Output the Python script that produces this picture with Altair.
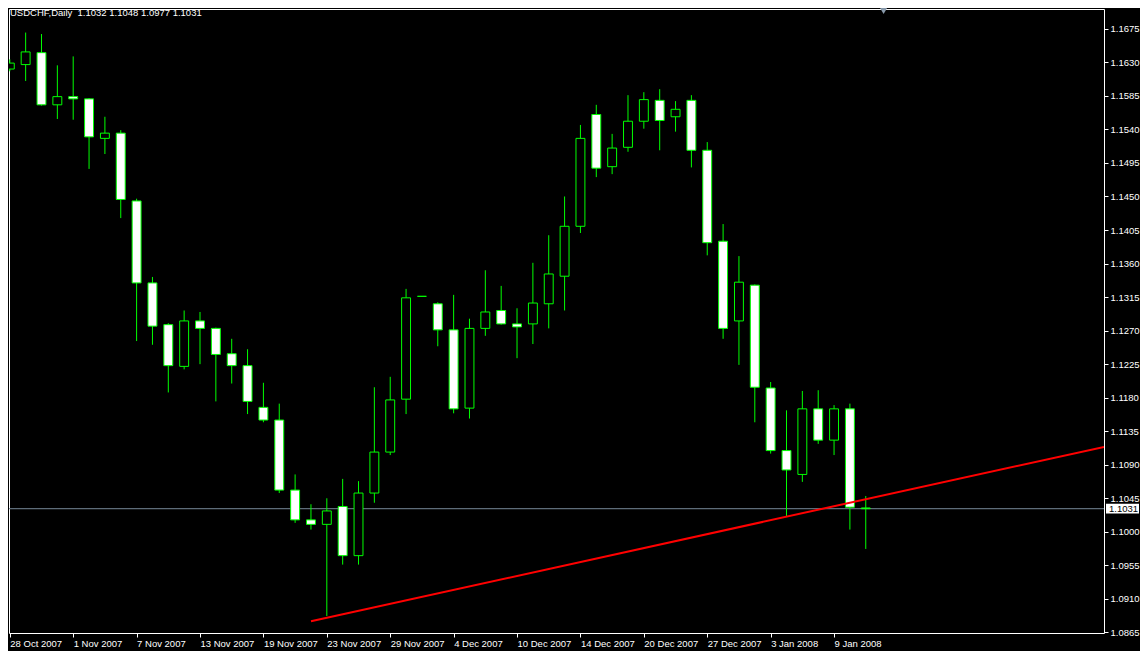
import json
import altair as alt
import pandas as pd

# ---------------- data ----------------
symbol_title = "USDCHF,Daily\u00a0\u00a01.1032 1.1048 1.0977 1.1031"

bar_index = list(range(55))
opens = [1.1621, 1.1627, 1.1643, 1.1573, 1.1584, 1.1581, 1.1528, 1.1535, 1.1444, 1.1334,
         1.1278, 1.1222, 1.1283, 1.1273, 1.1239, 1.1223, 1.1167, 1.1150, 1.1056, 1.1016,
         1.1010, 1.1034, 1.0968, 1.1052, 1.1107, 1.1178, 1.1316, 1.1306, 1.1271, 1.1166,
         1.1273, 1.1297, 1.1279, 1.1279, 1.1306, 1.1343, 1.1410, 1.1560, 1.1490, 1.1516,
         1.1551, 1.1579, 1.1557, 1.1579, 1.1512, 1.1390, 1.1283, 1.1331, 1.1193, 1.1109,
         1.1077, 1.1165, 1.1123, 1.1165, 1.1032]
highs = [1.1634, 1.1670, 1.1668, 1.1626, 1.1638, 1.1582, 1.1557, 1.1539, 1.1447, 1.1342,
         1.1280, 1.1297, 1.1295, 1.1274, 1.1259, 1.1245, 1.1200, 1.1172, 1.1077, 1.1037,
         1.1045, 1.1071, 1.1068, 1.1194, 1.1208, 1.1326, 1.1316, 1.1308, 1.1318, 1.1286,
         1.1351, 1.1330, 1.1300, 1.1361, 1.1398, 1.1450, 1.1546, 1.1573, 1.1534, 1.1586,
         1.1590, 1.1594, 1.1578, 1.1586, 1.1523, 1.1413, 1.1370, 1.1332, 1.1201, 1.1163,
         1.1189, 1.1190, 1.1170, 1.1172, 1.1048]
lows = [1.1618, 1.1605, 1.1572, 1.1554, 1.1553, 1.1487, 1.1507, 1.1421, 1.1256, 1.1251,
        1.1187, 1.1218, 1.1225, 1.1175, 1.1199, 1.1158, 1.1147, 1.1052, 1.1012, 1.1003,
        1.0887, 1.0956, 1.0956, 1.1039, 1.1103, 1.1158, 1.1316, 1.1249, 1.1159, 1.1152,
        1.1263, 1.1278, 1.1233, 1.1252, 1.1273, 1.1297, 1.1401, 1.1476, 1.1480, 1.1510,
        1.1541, 1.1512, 1.1537, 1.1489, 1.1371, 1.1259, 1.1224, 1.1147, 1.1105, 1.1021,
        1.1067, 1.1118, 1.1103, 1.1003, 1.0977]
closes = [1.1629, 1.1644, 1.1573, 1.1584, 1.1581, 1.1530, 1.1535, 1.1446, 1.1334, 1.1276,
          1.1223, 1.1283, 1.1273, 1.1238, 1.1223, 1.1175, 1.1150, 1.1056, 1.1016, 1.1010,
          1.1028, 1.0968, 1.1052, 1.1107, 1.1177, 1.1314, 1.1316, 1.1271, 1.1165, 1.1273,
          1.1295, 1.1279, 1.1275, 1.1307, 1.1346, 1.1410, 1.1528, 1.1488, 1.1515, 1.1551,
          1.1580, 1.1552, 1.1567, 1.1512, 1.1388, 1.1273, 1.1335, 1.1194, 1.1109, 1.1083,
          1.1165, 1.1123, 1.1165, 1.1033, 1.1031]

tick_index = [0, 4, 8, 12, 16, 20, 24, 28, 32, 36, 40, 44, 48, 52]
tick_labels = ["28 Oct 2007", "1 Nov 2007", "7 Nov 2007", "13 Nov 2007", "19 Nov 2007",
               "23 Nov 2007", "29 Nov 2007", "4 Dec 2007", "10 Dec 2007", "14 Dec 2007",
               "20 Dec 2007", "27 Dec 2007", "3 Jan 2008", "9 Jan 2008"]
price_ticks = [1.0865, 1.0910, 1.0955, 1.1000, 1.1045, 1.1090, 1.1135, 1.1180, 1.1225,
               1.1270, 1.1315, 1.1360, 1.1405, 1.1450, 1.1495, 1.1540, 1.1585, 1.1630, 1.1675]

trend_index = [19, 69.03]
trend_price = [1.0880, 1.1114]

bid_price = [1.1031]
shift_marker_index = [55.125]

# ---------------- layout ----------------
W, H = 1095, 624
x_domain = [-0.05, 69.03]
y_domain = [1.08642, 1.17016]
FONT = "Liberation Sans"
FS = 9.5
GREEN = "#00ff00"

xs = alt.Scale(domain=x_domain, nice=False, zero=False)
ys = alt.Scale(domain=y_domain, nice=False, zero=False)

label_expr = f"{json.dumps(tick_labels)}[indexof({json.dumps(tick_index)}, datum.value)]"
x_axis = alt.Axis(values=tick_index, labelExpr=label_expr, orient="bottom", title=None,
                  tickSize=4, labelAlign="left", labelBaseline="top", labelPadding=1,
                  labelOffset=0, labelOverlap=False, labelFlush=False, grid=False,
                  domain=False)
y_axis = alt.Axis(values=price_ticks, format=".4f", orient="right", title=None,
                  tickSize=4, labelPadding=2, labelOverlap=False, labelFlush=False,
                  grid=False, domain=False)

candles = pd.DataFrame({"i": bar_index, "o": opens, "h": highs, "l": lows, "c": closes})
candles["kind"] = ["bull" if c > o else "bear" for o, c in zip(opens, closes)]
half = 4.5 / 16
candles["x1"] = candles["i"] - half
candles["x2"] = candles["i"] + half

bid_df = pd.DataFrame({"p": bid_price})
trend_df = pd.DataFrame({"i": trend_index, "p": trend_price})

bid_line = alt.Chart(bid_df).mark_rule(color="#778899", strokeWidth=1).encode(
    y=alt.Y("p:Q", scale=ys, axis=y_axis)
)

wicks = alt.Chart(candles).mark_rule(color=GREEN, strokeWidth=1, clip=True).encode(
    x=alt.X("i:Q", scale=xs, axis=x_axis),
    y=alt.Y("h:Q", scale=ys, axis=y_axis),
    y2="l:Q",
)

bodies = alt.Chart(candles).mark_rect(stroke=GREEN, strokeWidth=1, clip=True).encode(
    x=alt.X("x1:Q", scale=xs, axis=x_axis),
    x2="x2:Q",
    y=alt.Y("o:Q", scale=ys, axis=y_axis),
    y2="c:Q",
    fill=alt.Fill("kind:N", scale=alt.Scale(domain=["bull", "bear"],
                                            range=["#000000", "#ffffff"]), legend=None),
)

trend = alt.Chart(trend_df).mark_line(color="#ff0000", strokeWidth=2, clip=True).encode(
    x=alt.X("i:Q", scale=xs, axis=x_axis),
    y=alt.Y("p:Q", scale=ys, axis=y_axis),
)

title_txt = alt.Chart(pd.DataFrame({"t": [symbol_title]})).mark_text(
    align="left", baseline="alphabetic", color="white", font=FONT, fontSize=FS
).encode(x=alt.value(1), y=alt.value(6.5), text="t:N")

price_box = alt.Chart(bid_df).transform_calculate(
    top="datum.p + 0.00066", bot="datum.p - 0.00066"
).mark_rect(fill="white").encode(
    x=alt.value(W + 2), x2=alt.value(W + 35),
    y=alt.Y("top:Q", scale=ys, axis=y_axis), y2="bot:Q",
)
price_txt = alt.Chart(bid_df).transform_calculate(
    lab="format(datum.p, '.4f')"
).mark_text(align="left", baseline="middle", color="black", font=FONT, fontSize=FS).encode(
    x=alt.value(W + 5), y=alt.Y("p:Q", scale=ys, axis=y_axis), text="lab:N"
)

marker = alt.Chart(pd.DataFrame({"i": shift_marker_index})).mark_point(
    shape="triangle-down", filled=True, color="#8899aa", opacity=1, size=70
).encode(x=alt.X("i:Q", scale=xs, axis=x_axis), y=alt.value(1.5))

chart = alt.layer(
    bid_line, wicks, bodies, trend, title_txt, price_box, price_txt, marker
).properties(
    width=W, height=H,
    autosize=alt.AutoSizeParams(type="none"),
    padding={"left": 1, "top": 1, "right": 36, "bottom": 18},
    background="#000000",
).configure_view(
    stroke="white", strokeWidth=1
).configure_axis(
    labelColor="white", tickColor="white", labelFont=FONT, labelFontSize=FS,
    tickWidth=1,
)

chart.save("out.html", embed_options={"renderer": "svg", "actions": False})
